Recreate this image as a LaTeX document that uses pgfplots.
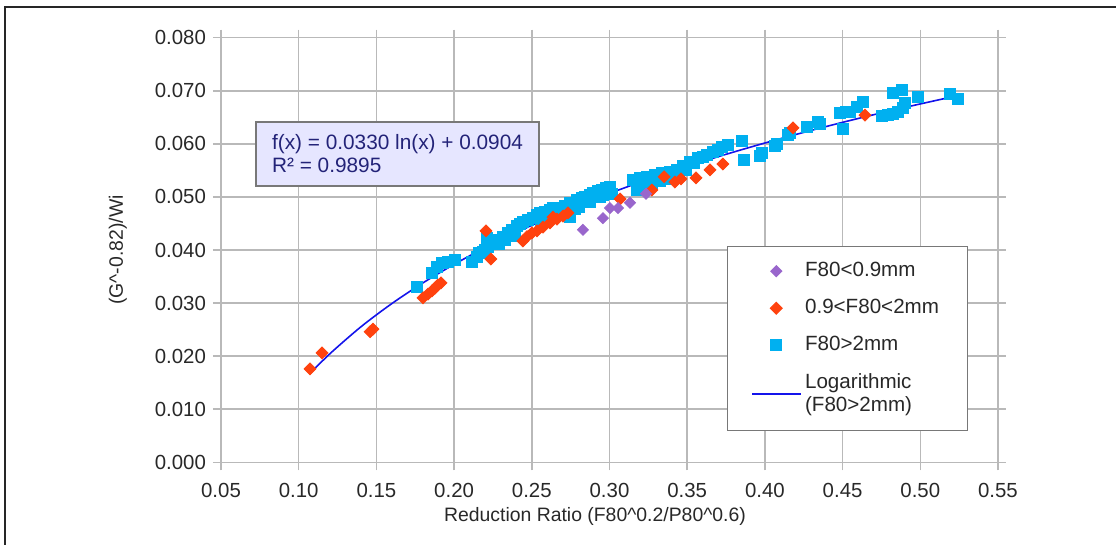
\documentclass[border=0pt]{standalone}
\usepackage{pgfplots}
\pgfplotsset{compat=1.18}
\usepackage{fontspec}
\setmainfont{Liberation Sans}

\definecolor{gridgray}{RGB}{185,185,185}
\definecolor{ticktext}{RGB}{40,40,40}
\definecolor{smallP}{RGB}{153,102,204}
\definecolor{midP}{RGB}{255,66,14}
\definecolor{bigP}{RGB}{0,176,240}
\definecolor{trendblue}{RGB}{20,20,235}
\definecolor{boxfill}{RGB}{230,230,255}
\definecolor{boxline}{RGB}{120,120,120}
\definecolor{eqtext}{RGB}{35,35,120}

\begin{document}
\begin{tikzpicture}
\begin{axis}[
    at={(110.5pt,41.35pt)}, anchor=south west,
    width=388.5pt, height=212.3pt, scale only axis,
    xmin=0.05, xmax=0.55, ymin=0, ymax=0.08,
    scaled x ticks=false, scaled y ticks=false,
    xtick={0.05,0.10,0.15,0.20,0.25,0.30,0.35,0.40,0.45,0.50,0.55},
    xticklabels={0.05,0.10,0.15,0.20,0.25,0.30,0.35,0.40,0.45,0.50,0.55},
    ytick={0,0.01,0.02,0.03,0.04,0.05,0.06,0.07,0.08},
    yticklabels={0.000,0.010,0.020,0.030,0.040,0.050,0.060,0.070,0.080},
    grid=major,
    major grid style={gridgray, line width=0.75pt},
    axis line style={gridgray, line width=0.75pt},
    tick align=outside, major tick length=4pt,
    tick style={gridgray, line width=0.75pt},
    tick label style={font=\fontsize{10.2}{12}\selectfont, text=ticktext,
        /pgf/number format/assume math mode=true},
    xticklabel style={yshift=-3pt},
    label style={font=\fontsize{9.7}{11}\selectfont, text=ticktext},
    xlabel={Reduction Ratio (F80\textasciicircum 0.2/P80\textasciicircum 0.6)},
    ylabel={(G\textasciicircum -0.82)/Wi},
    xlabel style={at={(axis description cs:0.4813,-0.1288)}, anchor=center},
    ylabel style={at={(axis description cs:-0.1326,0.5)}, anchor=center},
    legend image code/.code={\draw[mark repeat=2,mark phase=2,#1]
        plot coordinates {(0pt,0pt)(12pt,0pt)(24pt,0pt)};},
    legend style={at={(axis description cs:0.6512,0.5094)}, anchor=north west,
        draw=boxline, line width=0.5pt, fill=white,
        font=\fontsize{10.3}{11.5}\selectfont, text=ticktext,
        inner xsep=12pt, inner ysep=6pt, row sep=5.8pt,
        cells={anchor=west}, nodes={align=left}},
]
% F80>2mm
\addplot[only marks, mark=square*, color=bigP, mark size=2.75pt, forget plot]
coordinates {
(0.1761,0.0330) (0.1858,0.0357) (0.1890,0.0368) (0.1922,0.0376) (0.1961,0.0377)
(0.2006,0.0381) (0.2115,0.0377) (0.2147,0.0387) (0.2186,0.0396) (0.2218,0.0406)
(0.2212,0.0423) (0.2250,0.0413) (0.2276,0.0419) (0.2315,0.0425) (0.2347,0.0432)
(0.2373,0.0438) (0.2405,0.0445) (0.2424,0.0449) (0.2443,0.0453) (0.2476,0.0457)
(0.2508,0.0460) (0.2533,0.0466) (0.2553,0.0470) (0.2585,0.0472) (0.2617,0.0475)
(0.2636,0.0479) (0.2669,0.0475) (0.2714,0.0483) (0.2746,0.0489) (0.2765,0.0485)
(0.2791,0.0494) (0.2823,0.0498) (0.2842,0.0500) (0.2875,0.0504) (0.2894,0.0507)
(0.2926,0.0511) (0.2952,0.0513) (0.2978,0.0517) (0.3003,0.0519) (0.2746,0.0462)
(0.2604,0.0460) (0.2682,0.0468) (0.2778,0.0477) (0.2875,0.0490) (0.2939,0.0500)
(0.3016,0.0506)
(0.2160,0.0395) (0.2200,0.0400) (0.2290,0.0411) (0.2330,0.0419) (0.2390,0.0427)
(0.2560,0.0456) (0.2650,0.0465) (0.2800,0.0481) (0.2960,0.0503)
(0.3151,0.0532) (0.3177,0.0513) (0.3196,0.0536) (0.3216,0.0519) (0.3241,0.0538)
(0.3274,0.0524) (0.3293,0.0541) (0.3325,0.0530) (0.3338,0.0545) (0.3370,0.0534)
(0.3389,0.0547) (0.3421,0.0539) (0.3434,0.0551) (0.3473,0.0558) (0.3492,0.0551)
(0.3518,0.0566) (0.3544,0.0564) (0.3570,0.0573) (0.3602,0.0575) (0.3627,0.0579)
(0.3666,0.0585) (0.3698,0.0588) (0.3724,0.0594) (0.3763,0.0598) (0.3853,0.0605)
(0.3866,0.0570) (0.3969,0.0577) (0.3981,0.0583) (0.4065,0.0596) (0.4078,0.0600)
(0.4149,0.0617) (0.4162,0.0620) (0.4271,0.0632) (0.4342,0.0641) (0.4355,0.0637)
(0.4483,0.0658) (0.4503,0.0628) (0.4522,0.0660) (0.4548,0.0660) (0.4593,0.0669)
(0.4631,0.0679) (0.4754,0.0652) (0.4792,0.0654) (0.4824,0.0656) (0.4857,0.0660)
(0.4889,0.0668) (0.4902,0.0677) (0.4824,0.0696) (0.4882,0.0701) (0.4985,0.0688)
(0.5191,0.0694) (0.5243,0.0685)
};
% 0.9<F80<2mm
\addplot[only marks, mark=square*, mark options={rotate=45}, color=midP,
    mark size=2.1pt, forget plot]
coordinates {
(0.1073,0.0176) (0.1150,0.0206) (0.1459,0.0246) (0.1478,0.0251) (0.1800,0.0310)
(0.1832,0.0317) (0.1858,0.0323) (0.1877,0.0328) (0.1896,0.0334) (0.1916,0.0338)
(0.2205,0.0436) (0.2237,0.0383) (0.2443,0.0417) (0.2469,0.0425) (0.2501,0.0432)
(0.2533,0.0436) (0.2572,0.0443) (0.2617,0.0451) (0.2636,0.0462) (0.2662,0.0458)
(0.2701,0.0464) (0.2733,0.0470) (0.3068,0.0496) (0.3273,0.0513) (0.3351,0.0538)
(0.3421,0.0528) (0.3460,0.0534) (0.3557,0.0536) (0.3647,0.0551) (0.3730,0.0562)
(0.4181,0.0630) (0.4644,0.0654)
};
% F80<0.9mm
\addplot[only marks, mark=square*, mark options={rotate=45}, color=smallP,
    mark size=1.95pt, forget plot]
coordinates {
(0.2829,0.0438) (0.2958,0.0460) (0.3003,0.0479) (0.3055,0.0479) (0.3132,0.0489)
(0.3235,0.0506)
};

\addlegendimage{only marks, mark=square*, mark options={rotate=45}, color=smallP, mark size=1.95pt}
\addlegendimage{only marks, mark=square*, mark options={rotate=45}, color=midP, mark size=2.1pt}
\addlegendimage{only marks, mark=square*, color=bigP, mark size=2.75pt}

% logarithmic trend line, f(x) = 0.0330 ln(x) + 0.0904
\addplot[trendblue, line width=0.8pt, smooth, mark=none]
coordinates {
(0.107,0.01665) (0.12,0.02043) (0.14,0.02552) (0.16,0.02992) (0.18,0.03381)
(0.20,0.03729) (0.22,0.04043) (0.25,0.04465) (0.28,0.04839) (0.31,0.05175)
(0.34,0.05480) (0.37,0.05759) (0.40,0.06016) (0.43,0.06255) (0.46,0.06478)
(0.49,0.06686) (0.522,0.06895)
};

\legend{F80<0.9mm, 0.9<F80<2mm, F80>2mm, {Logarithmic\\(F80>2mm)}}

\node[draw=boxline, line width=1pt, fill=boxfill, text=eqtext, align=left,
    anchor=north west, minimum width=141.5pt, minimum height=32pt,
    font=\fontsize{10.4}{11.5}\selectfont]
    at (axis description cs:0.0438,0.8045) {f(x) = 0.0330 ln(x) + 0.0904\\R² = 0.9895};
\end{axis}
\pgfresetboundingbox
\useasboundingbox (0,0) rectangle (558pt,272.5pt);
\draw[line width=1pt, black!85] (2.5pt,0pt) -- (2.5pt,269pt) -- (558pt,269pt);
\end{tikzpicture}
\end{document}
